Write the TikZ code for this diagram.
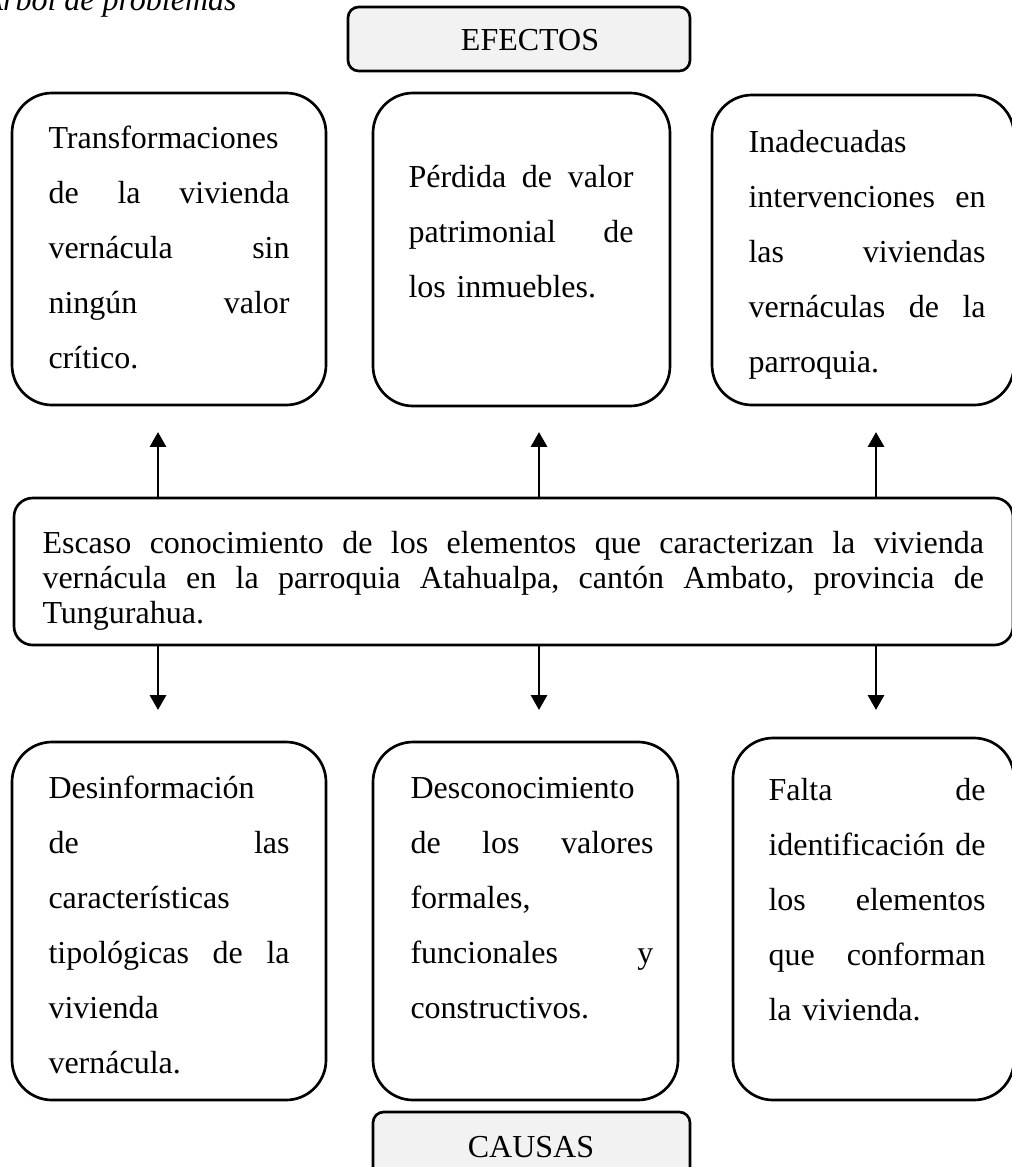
\documentclass[tikz,border=0pt]{standalone}
\usepackage{fontspec}
\setmainfont{Liberation Serif}
\usetikzlibrary{arrows.meta,fit}
\definecolor{labgray}{HTML}{F2F2F2}
\newcommand{\W}{100pt}
\newcommand{\jl}[1]{\leavevmode\hbox to \W{#1}}
\newcommand{\tr}{\rule{0pt}{10pt}}
\tikzset{
  box/.style={draw, line width=1pt, rounded corners=15pt, inner sep=0pt},
  midbox/.style={draw, line width=1pt, rounded corners=7pt, inner sep=0pt},
  lab/.style={draw, line width=1pt, rounded corners=4pt, fill=labgray, inner sep=0pt},
  txt/.style={anchor=north west, inner sep=0pt, align=left, font=\fontsize{12}{20.6}\selectfont},
  midtxt/.style={anchor=north west, inner sep=0pt, align=left, font=\fontsize{12}{13.1}\selectfont},
  labtxt/.style={inner sep=0pt, font=\fontsize{12}{14}\selectfont},
  arr/.style={line width=1.1pt, -{Triangle[width=6pt,length=5.6pt]}},
}
\begin{document}
\begin{tikzpicture}[x=0.375pt,y=-0.375pt]
\useasboundingbox (0,0) rectangle (1012,1167);
% title
\node[anchor=base west, inner sep=0pt, font=\itshape\fontsize{12}{14}\selectfont] (title) at (-17,10) {Árbol de problemas};
% labels
\node[lab, fit={(348,7) (690,71)}] (ef) {};
\node[labtxt, anchor=base] (eft) at (530,50) {EFECTOS};
\node[lab, fit={(373,1112) (690,1180)}] (ca) {};
\node[labtxt, anchor=base] (cat) at (531,1157) {CAUSAS};
% effects
\node[box, fit={(12,93) (326,405)}] (e1) {};
\node[box, fit={(373,93) (670,406)}] (e2) {};
\node[box, fit={(712,95) (1014,405)}] (e3) {};
\node[txt, text width=90.4pt] (e1t) at (48,121.3) {\renewcommand{\W}{90.4pt}\tr Transformaciones\\ \jl{de\hfill la\hfill vivienda}\\ \jl{vernácula\hfill sin}\\ \jl{ningún\hfill valor}\\ crítico.};
\node[txt, text width=84.4pt] (e2t) at (408,160.3) {\renewcommand{\W}{84.4pt}\tr\jl{Pérdida\hfill de\hfill valor}\\ \jl{patrimonial\hfill de}\\ los inmuebles.};
\node[txt, text width=88.9pt] (e3t) at (748,125.3) {\renewcommand{\W}{88.9pt}\tr Inadecuadas\\ \jl{intervenciones\hfill en}\\ \jl{las\hfill viviendas}\\ \jl{vernáculas\hfill de\hfill la}\\ parroquia.};
% central problem
\node[midbox, fit={(14,498) (1013,645)}] (m) {};
\node[midtxt, text width=353pt] (mt) at (42,526.3) {\renewcommand{\W}{353pt}\tr\jl{Escaso\hfill conocimiento\hfill de\hfill los\hfill elementos\hfill que\hfill caracterizan\hfill la\hfill vivienda}\\ \jl{vernácula\hfill en\hfill la\hfill parroquia\hfill Atahualpa,\hfill cantón\hfill Ambato,\hfill provincia\hfill de}\\ Tungurahua.};
% causes
\node[box, fit={(12,742) (326,1100)}] (c1) {};
\node[box, fit={(373,742) (678,1100)}] (c2) {};
\node[box, fit={(733,738) (1014,1100)}] (c3) {};
\node[txt, text width=90.4pt] (c1t) at (48,771.3) {\renewcommand{\W}{90.4pt}\tr Desinformación\\ \jl{de\hfill las}\\ características\\ \jl{tipológicas\hfill de\hfill la}\\ vivienda\\ vernácula.};
\node[txt, text width=91.1pt] (c2t) at (410,771.3) {\renewcommand{\W}{91.1pt}\tr Desconocimiento\\ \jl{de\hfill los\hfill valores}\\ formales,\\ \jl{funcionales\hfill y}\\ constructivos.};
\node[txt, text width=81.4pt] (c3t) at (768,773.3) {\renewcommand{\W}{81.4pt}\tr\jl{Falta\hfill de}\\ \jl{identificación\hfill de}\\ \jl{los\hfill elementos}\\ \jl{que\hfill conforman}\\ la vivienda.};
% arrows
\coordinate (u1) at (158,432);
\coordinate (u2) at (539,432);
\coordinate (u3) at (876,432);
\coordinate (d1) at (158,710);
\coordinate (d2) at (539,710);
\coordinate (d3) at (876,710);
\draw[arr] (m.north -| u1) -- (u1);
\draw[arr] (m.north -| u2) -- (u2);
\draw[arr] (m.north -| u3) -- (u3);
\draw[arr] (m.south -| d1) -- (d1);
\draw[arr] (m.south -| d2) -- (d2);
\draw[arr] (m.south -| d3) -- (d3);
\end{tikzpicture}
\end{document}
